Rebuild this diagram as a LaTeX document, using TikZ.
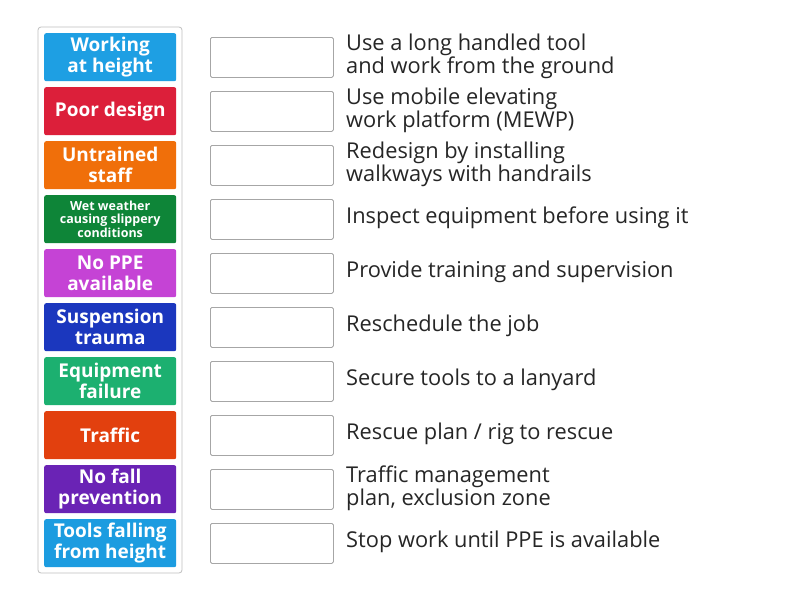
\documentclass[tikz,border=0pt]{standalone}
\usepackage{fontspec}
\setmainfont{Open Sans}
\begin{document}
\begin{tikzpicture}[x=1pt,y=-1pt,
 tile/.style={fill=#1,rounded corners=2pt,minimum width=132pt,minimum height=48pt,inner sep=1pt,text=white,font=\bfseries\fontsize{19}{21}\selectfont,align=center,anchor=north west},
 slot/.style={draw=black!35,fill=white,rounded corners=1.5pt,minimum width=123pt,minimum height=40pt,anchor=north west,line width=0.8pt},
 ans/.style={anchor=west,align=left,font=\fontsize{21.8}{23}\selectfont,text=black!85,inner sep=0pt}]
\useasboundingbox (0,0) rectangle (800,600);
\fill[white] (0,0) rectangle (800,600);
\draw[black!25,rounded corners=3pt,line width=0.8pt] (38,27) rectangle (182,573);
\definecolor{c1}{HTML}{1E9FE3}\definecolor{c2}{HTML}{DC1F3A}\definecolor{c3}{HTML}{F06F0A}
\definecolor{c4}{HTML}{0E8538}\definecolor{c5}{HTML}{C543D5}\definecolor{c6}{HTML}{1B37BE}
\definecolor{c7}{HTML}{1CB070}\definecolor{c8}{HTML}{E2400E}\definecolor{c9}{HTML}{6A23B5}
\definecolor{c10}{HTML}{1C9CE0}
\foreach \t [count=\i] in {{Working\\at height},{Poor design},{Untrained\\staff},{},{No PPE\\available},{Suspension\\trauma},{Equipment\\failure},{Traffic},{No fall\\prevention},{Tools falling\\from height}}{
 \node[tile=c\i] (t\i) at (44,{33+54*(\i-1)}) {\t};
 \node[slot] (s\i) at (210,{37+54*(\i-1)}) {};
}
\node[font=\bfseries\fontsize{12.5}{13.5}\selectfont,text=white,align=center] (w4) at (t4.center) {Wet weather\\causing slippery\\conditions};
\foreach \t [count=\i] in {{Use a long handled tool\\and work from the ground},{Use mobile elevating\\work platform (MEWP)},{Redesign by installing\\walkways with handrails},{Inspect equipment before using it},{Provide training and supervision},{Reschedule the job},{Secure tools to a lanyard},{Rescue plan / rig to rescue},{Traffic management\\plan, exclusion zone},{Stop work until PPE is available}}{
 \node[ans] (a\i) at (346,{56+54*(\i-1)}) {\t};
}
\end{tikzpicture}
\end{document}
